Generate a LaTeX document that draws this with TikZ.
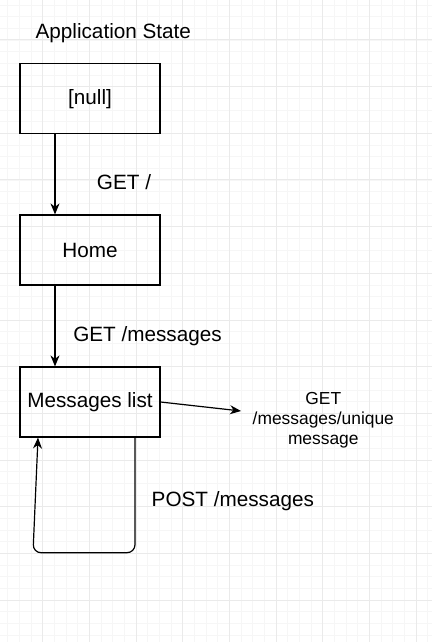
\documentclass[tikz,border=0pt]{standalone}
\usepackage{fontspec}
\setmainfont{Liberation Sans}
\usetikzlibrary{arrows.meta}
\definecolor{gridminor}{HTML}{F6F6F6}
\definecolor{gridmajor}{HTML}{EAEAEA}

\begin{document}
\begin{tikzpicture}[x=1pt,y=-1pt,
    statebox/.style={draw,line width=1.2pt,minimum width=140pt,minimum height=70pt,inner sep=0pt,font=\fontsize{20.7}{24}\selectfont},
    label/.style={inner sep=0pt,anchor=base,font=\fontsize{20.7}{24}\selectfont},
    smalllabel/.style={inner sep=0pt,align=center,font=\fontsize{17.4}{20}\selectfont},
    link/.style={line width=1.2pt,-{Stealth[length=11pt,width=9pt,inset=3.5pt]}}]
    \useasboundingbox (0,0) rectangle (432,642);
    % Draw the background grid
    \foreach \i in {0,...,37} {
        \draw[gridminor,line width=0.8pt] (7.7+11.667*\i,0) -- (7.7+11.667*\i,642); % minor vertical
    }
    \foreach \i in {0,...,55} {
        \draw[gridminor,line width=0.8pt] (0,5+11.667*\i) -- (432,5+11.667*\i); % minor horizontal
    }
    \foreach \i in {1,...,9} {
        \draw[gridmajor,line width=1pt] (-4+46.667*\i,0) -- (-4+46.667*\i,642); % major vertical
    }
    \foreach \i in {1,...,14} {
        \draw[gridmajor,line width=1pt] (0,-6.67+46.667*\i) -- (432,-6.67+46.667*\i); % major horizontal
    }

    % Title and states
    \node[label] (title) at (113.3,38.3) {Application State};
    \node[statebox] (null) at (90,98.8) {[null]};
    \node[statebox] (home) at (90,250) {Home};
    \node[statebox] (msgs) at (90,402) {Messages list};

    % Transitions
    \draw[link] ([xshift=-35pt]null.south) -- ([xshift=-35pt]home.north);
    \node[label] (getroot) at (124,189.3) {GET /};
    \draw[link] ([xshift=-35pt]home.south) -- ([xshift=-35pt]msgs.north);
    \node[label] (getmsgs) at (147.5,341.7) {GET /messages};

    \coordinate (uniqueend) at (241,411);
    \draw[link] (msgs.east) -- (uniqueend);
    \node[smalllabel] (getunique) at (323.3,420) {GET\\/messages/unique\\message};

    \coordinate (loopright) at (135,552.7);
    \coordinate (loopleft) at (33,552.7);
    \draw[link,rounded corners=8pt] ([xshift=45pt]msgs.south) -- (loopright) -- (loopleft) -- ([xshift=-52pt]msgs.south); % self loop
    \node[label] (postmsgs) at (232.8,506) {POST /messages};
\end{tikzpicture}
\end{document}
